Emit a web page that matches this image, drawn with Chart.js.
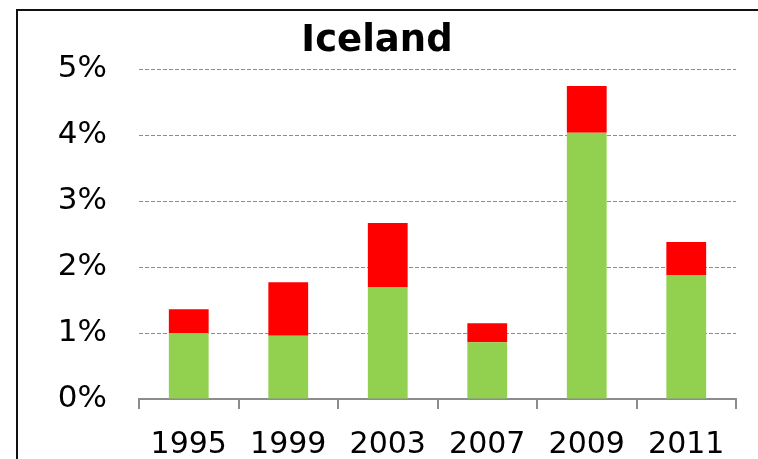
<!DOCTYPE html>
<html>
<head>
<meta charset="utf-8">
<script src="https://cdn.jsdelivr.net/npm/chart.js@4/dist/chart.umd.min.js"></script>
<style>
  html, body { margin: 0; padding: 0; background: #fff; overflow: hidden; }
  #wrap { position: relative; width: 758px; height: 459px; }
  #frame { position: absolute; left: 16px; top: 9px; width: 800px; height: 500px; border: 2px solid #111; box-sizing: border-box; }
  canvas { position: absolute; left: 0; top: 0; }
</style>
</head>
<body>
<div id="wrap">
  <div id="frame"></div>
  <canvas id="c" width="758" height="459"></canvas>
</div>
<script>
const categories = ['1995', '1999', '2003', '2007', '2009', '2011'];
const greenValues = [1.00, 0.96, 1.70, 0.86, 4.04, 1.88];
const redValues = [0.36, 0.81, 0.97, 0.29, 0.71, 0.50];
const yTicks = [0, 1, 2, 3, 4, 5];
const titleText = 'Iceland';

const FONT = "'DejaVu Sans', Verdana, sans-serif";

new Chart(document.getElementById('c'), {
  type: 'bar',
  data: {
    labels: categories,
    datasets: [
      { data: greenValues, backgroundColor: '#92D050', barPercentage: 0.4, categoryPercentage: 1.0 },
      { data: redValues, backgroundColor: '#FF0000', barPercentage: 0.4, categoryPercentage: 1.0 }
    ]
  },
  options: {
    responsive: false,
    devicePixelRatio: 1,
    animation: false,
    layout: { padding: { left: 18, right: 22, top: 0, bottom: 0 } },
    plugins: {
      legend: { display: false },
      tooltip: { enabled: false },
      title: {
        display: true,
        text: titleText,
        color: '#000',
        font: { family: FONT, size: 37, weight: 'bold' },
        padding: { top: 19, bottom: 6 }
      }
    },
    scales: {
      x: {
        stacked: true,
        border: { display: true, color: '#8c8c8c', width: 2 },
        grid: { display: true, drawOnChartArea: false, drawTicks: true, tickLength: 10, color: '#8c8c8c', lineWidth: 2, offset: true },
        ticks: { color: '#000', font: { family: FONT, size: 30 }, padding: 18, maxRotation: 0 },
        afterFit: s => { s.height = 60; }
      },
      y: {
        stacked: true,
        min: 0,
        max: 5,
        afterBuildTicks: s => { s.ticks = yTicks.map(v => ({ value: v })); },
        border: { display: false, dash: [4, 2] },
        grid: { color: '#8c8c8c', lineWidth: 1, drawTicks: false },
        ticks: { color: '#000', font: { family: FONT, size: 31 }, padding: 32, callback: v => v + '%' },
        afterFit: s => { s.width = 121; }
      }
    }
  }
});
</script>
</body>
</html>
